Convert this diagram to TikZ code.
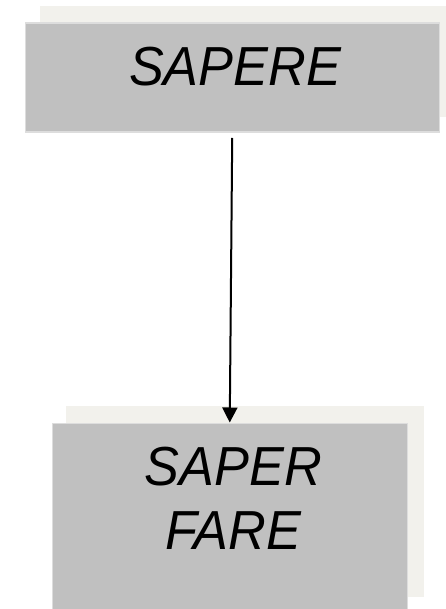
\documentclass[tikz,border=0pt]{standalone}
\usepackage{fontspec}
\usepackage{graphicx}
\setmainfont{Liberation Sans}
\usetikzlibrary{arrows.meta}
\definecolor{shadowc}{HTML}{F2F1EC}
\definecolor{boxc}{HTML}{C0C0C0}
\definecolor{edgec}{HTML}{DDDDDD}
\newcommand{\narrowtext}[1]{\scalebox{0.95}[1]{#1}}
\tikzset{
  shadowbox/.style={fill=shadowc, draw=none, inner sep=0pt, anchor=north west},
  mainbox/.style={fill=boxc, draw=edgec, line width=1.5pt, inner sep=0pt, anchor=north west},
  label/.style={font=\fontsize{55}{64}\selectfont\itshape, inner sep=0pt, align=center, text=black},
  arrow/.style={-{Triangle[width=15pt,length=15pt]}, line width=2pt, shorten <=5pt}
}
\begin{document}
\begin{tikzpicture}[x=1pt,y=-1pt]
\useasboundingbox (0,0) rectangle (446,609);
\clip (0,0) rectangle (446,609);
\fill[white] (0,0) rectangle (446,609);
% top
\node[shadowbox, minimum width=410pt, minimum height=111pt] (topshadow) at (40,6) {};
\node[mainbox, minimum width=414pt, minimum height=109pt] (top) at (24.5,22.5) {};
\node[label, anchor=base] (toptext) at (235,86) {\narrowtext{SAPERE}};
% bottom
\node[shadowbox, minimum width=358pt, minimum height=191pt] (botshadow) at (66,406) {};
\node[mainbox, minimum width=355pt, minimum height=220pt] (bot) at (51.5,422.5) {};
\node[label, anchor=base] (bottext) at (233.5,549) {\narrowtext{SAPER}\\\narrowtext{FARE}};
% connector
\draw[arrow] (top.south) -- (bot.north);
\end{tikzpicture}
\end{document}
